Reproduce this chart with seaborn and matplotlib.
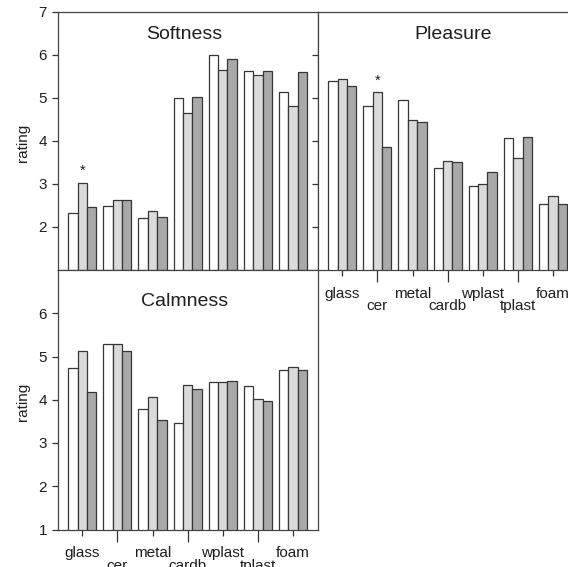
#Importing libraries
import pandas as pd
import matplotlib
matplotlib.use('Agg')
import matplotlib.pyplot as plt
import seaborn as sns

#Data
materials = ['glass', 'cer', 'metal', 'cardb', 'wplast', 'tplast', 'foam']
conditions = ['cond1', 'cond2', 'cond3']

softness_1 = [2.33, 2.49, 2.20, 5.00, 6.00, 5.61, 5.13]
softness_2 = [3.03, 2.62, 2.36, 4.64, 5.64, 5.53, 4.80]
softness_3 = [2.46, 2.63, 2.22, 5.01, 5.89, 5.61, 5.60]

pleasure_1 = [5.38, 4.80, 4.95, 3.37, 2.94, 4.06, 2.53]
pleasure_2 = [5.44, 5.14, 4.48, 3.54, 3.00, 3.61, 2.72]
pleasure_3 = [5.28, 3.86, 4.43, 3.51, 3.27, 4.09, 2.53]

calmness_1 = [4.73, 5.28, 3.78, 3.46, 4.42, 4.31, 4.69]
calmness_2 = [5.13, 5.28, 4.07, 4.35, 4.41, 4.01, 4.76]
calmness_3 = [4.18, 5.13, 3.54, 4.25, 4.43, 3.98, 4.68]

#significant differences (marked with *) on the middle bar
stars = {'Softness': ['glass'], 'Pleasure': ['cer']}

panels = {
    'Softness': [softness_1, softness_2, softness_3],
    'Pleasure': [pleasure_1, pleasure_2, pleasure_3],
    'Calmness': [calmness_1, calmness_2, calmness_3],
}

#long form table
rows = []
for scale, series in panels.items():
    for cond, vals in zip(conditions, series):
        for mat, v in zip(materials, vals):
            rows.append({'scale': scale, 'material': mat, 'condition': cond, 'rating': v})
df = pd.DataFrame(rows)

sns.set_style('white')
plt.rcParams['font.family'] = ['Liberation Sans', 'DejaVu Sans']
plt.rcParams['text.color'] = '#1e1e1e'
plt.rcParams['axes.labelcolor'] = '#1e1e1e'
plt.rcParams['xtick.color'] = '#333333'
plt.rcParams['ytick.color'] = '#333333'
plt.rcParams['xtick.labelcolor'] = '#1e1e1e'
plt.rcParams['ytick.labelcolor'] = '#1e1e1e'

W, H = 568, 567
fig = plt.figure(figsize=(W / 100, H / 100), dpi=100)

def box(l, t, w, h):
    return [l / W, (H - t - h) / H, w / W, h / H]

axes = {
    'Softness': fig.add_axes(box(58, 11.5, 260, 258.5)),
    'Pleasure': fig.add_axes(box(318, 11.5, 260, 258.5)),
    'Calmness': fig.add_axes(box(58, 270, 260, 259.5)),
}

palette = ['#ffffff', '#dadada', '#a9a9a9']

for scale, ax in axes.items():
    sub = df[df['scale'] == scale]
    sns.barplot(data=sub, x='material', y='rating', hue='condition',
                order=materials, hue_order=conditions, palette=palette,
                saturation=1, errorbar=None, edgecolor='#363636',
                linewidth=0.9, legend=False, ax=ax)
    ax.set_xlim(-0.69, 6.71)
    ax.set_ylim(1, 7)
    for sp in ax.spines.values():
        sp.set_color('#444444')
        sp.set_linewidth(0.9)
    ax.set_xlabel('')
    ax.set_ylabel('')

    #alternating tick lengths on the x axis
    ax.set_xticks([0, 2, 4, 6])
    ax.set_xticks([1, 3, 5], minor=True)
    ax.tick_params(axis='x', which='major', bottom=True, direction='out',
                   length=4, width=0.9, pad=8, labelsize=11)
    ax.tick_params(axis='x', which='minor', bottom=True, direction='out',
                   length=8.5, width=0.9, pad=12.5, labelsize=11)
    ax.tick_params(axis='y', left=True, direction='out', length=4,
                   width=0.9, pad=4, labelsize=11)

    #title inside the panel
    off = 23 if scale != 'Calmness' else 31.5
    tx = 0.485 if scale != 'Pleasure' else 0.52
    ax.text(tx, 1 - off / 259, scale, transform=ax.transAxes,
            ha='center', va='center', fontsize=14)

    #stars
    for mat in stars.get(scale, []):
        i = materials.index(mat)
        v = panels[scale][1][i]
        ax.text(i, v + 0.1, '*', ha='center', va='bottom', fontsize=10.5)

#tick labels per panel
sa, pa, ca = axes['Softness'], axes['Pleasure'], axes['Calmness']
sa.set_yticks([2, 3, 4, 5, 6, 7])
sa.set_xticklabels([])
sa.set_xticklabels([], minor=True)
pa.set_yticks([2, 3, 4, 5, 6])
pa.set_yticklabels([])
pa.set_xticklabels(materials[0::2])
pa.set_xticklabels(materials[1::2], minor=True)
ca.set_yticks([1, 2, 3, 4, 5, 6])
ca.set_xticklabels(materials[0::2])
ca.set_xticklabels(materials[1::2], minor=True)

for ax in [sa, ca]:
    ax.set_ylabel('rating', fontsize=11)
    ax.yaxis.set_label_coords(-0.108, 0.49)

plt.savefig('out.png', dpi=100)
plt.close()
